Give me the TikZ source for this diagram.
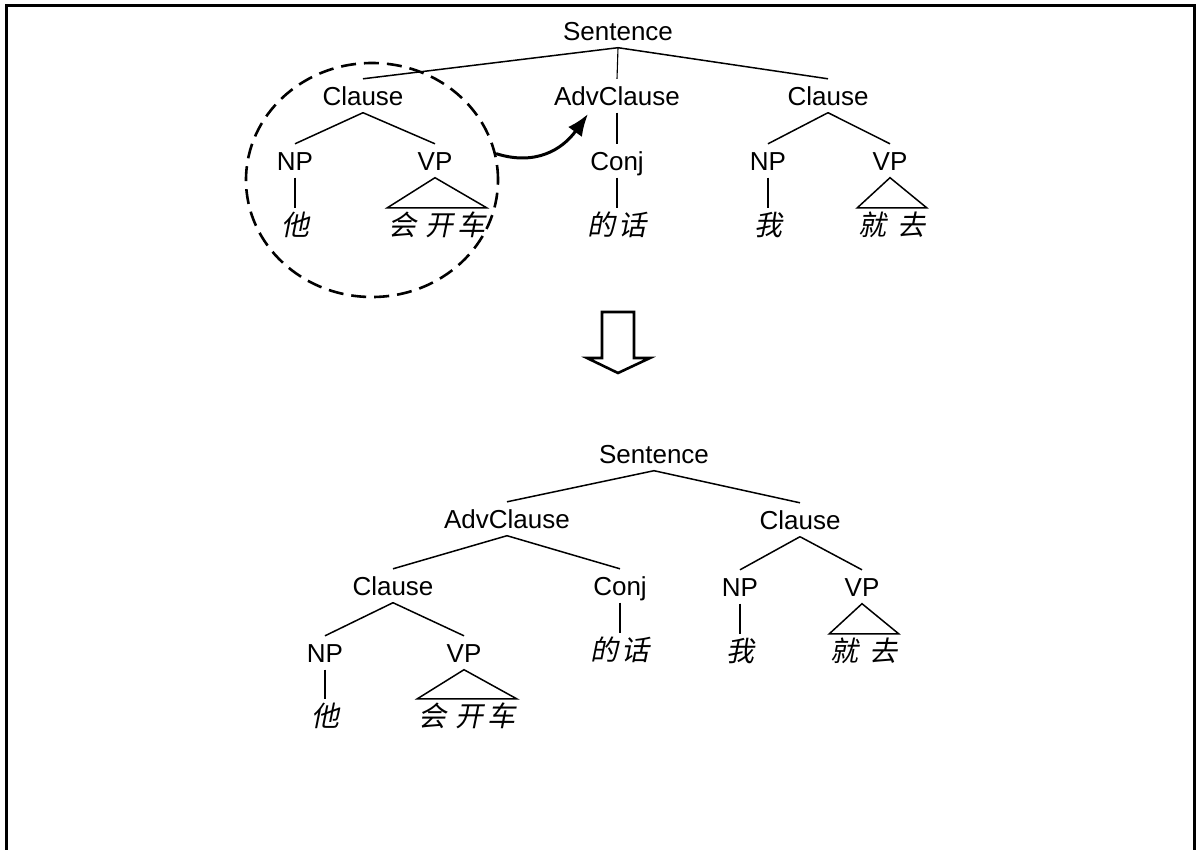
\documentclass[tikz,border=0pt]{standalone}
\usepackage{fontspec}
\setmainfont{Liberation Sans}
\newfontfamily\cjk[FakeSlant=0.2]{Noto Sans CJK SC}
\usetikzlibrary{shapes.geometric,arrows.meta,calc}
\begin{document}
\begin{tikzpicture}[x=1pt,y=-1pt,
  lab/.style={anchor=base, inner xsep=0pt, inner ysep=7.5pt, text height=18.5pt, text depth=0pt, font=\fontsize{26}{31}\selectfont},
  word/.style={anchor=base, inner xsep=1pt, inner ysep=5pt, text height=22pt, text depth=0pt, font=\fontsize{28}{33}\selectfont\cjk},
  edge/.style={line width=1.5pt},
  vedge/.style={line width=1.1pt},
  tri/.style={line width=1.5pt, line join=miter},
  frame/.style={line width=3pt},
  group/.style={ellipse, draw, line width=2.6pt, dash pattern=on 15pt off 8pt, minimum width=252pt, minimum height=234pt, inner sep=0pt},
  moveto/.style={line width=3pt, -{Latex[length=22pt,width=17pt]}},
  bigarrow/.style={line width=2.6pt, line join=miter}
]
\useasboundingbox (0,0) rectangle (1198,849);
\clip (0,0) rectangle (1198,849);
% frame
\draw[frame] (6,860) -- (6,5) -- (1194,5) -- (1194,860);

% ---------- top tree ----------
\node[lab] (S1) at (618,40) {Sentence};
\node[lab] (C1) at (363,105) {Clause};
\node[lab] (A1) at (617,105) {AdvClause};
\node[lab] (C2) at (828,105) {Clause};
\node[lab] (NP1) at (295,170) {NP};
\node[lab] (VP1) at (435,170) {VP};
\node[lab] (Cj1) at (617,170) {Conj};
\node[lab] (NP2) at (768,170) {NP};
\node[lab] (VP2) at (890,170) {VP};
\node[word] (W1) at (295,235) {他};
\node[word] (W2) at (437,235) {会\hspace{9pt}开\hspace{4pt}车};
\node[word] (W3) at (617,235) {的\hspace{4pt}话};
\node[word] (W4) at (768,235) {我};
\node[word] (W5) at (892,235) {就\hspace{11pt}去};

\draw[edge] (S1.south) -- (C1.north);
\draw[vedge] (S1.south) -- (A1.north);
\draw[edge] (S1.south) -- (C2.north);
\draw[edge] (C1.south) -- (NP1.north);
\draw[edge] (C1.south) -- (VP1.north);
\draw[vedge] (A1.south) -- (Cj1.north);
\draw[edge] (C2.south) -- (NP2.north);
\draw[edge] (C2.south) -- (VP2.north);
\draw[vedge] (NP1.south) -- (W1.north);
\draw[tri] (VP1.south) -- (W2.north west) -- (W2.north east) -- cycle;
\draw[vedge] (Cj1.south) -- (W3.north);
\draw[vedge] (NP2.south) -- (W4.north);
\draw[tri] (VP2.south) -- (W5.north west) -- (W5.north east) -- cycle;

% dashed group and movement arrow
\node[group] (grp) at (372,180) {};
\coordinate (tipA) at (588,114);
\draw[moveto] (grp.12) .. controls (535,166) and (562,150) .. (tipA);

% big down arrow
\draw[bigarrow] (602,312) -- (634,312) -- (634,358) -- (650,358) -- (618,373) -- (587,358) -- (602,358) -- cycle;

% ---------- bottom tree ----------
\node[lab] (S2) at (654,463) {Sentence};
\node[lab] (A2) at (507,528) {AdvClause};
\node[lab] (C3) at (800,529) {Clause};
\node[lab] (C4) at (393,595) {Clause};
\node[lab] (Cj2) at (620,595) {Conj};
\node[lab] (NP3) at (740,596) {NP};
\node[lab] (VP3) at (862,596) {VP};
\node[lab] (NP4) at (325,662) {NP};
\node[lab] (VP4) at (464,662) {VP};
\node[word] (V3) at (620,660) {的\hspace{4pt}话};
\node[word] (V4) at (740,661) {我};
\node[word] (V5) at (864,661) {就\hspace{11pt}去};
\node[word] (V1) at (325,726) {他};
\node[word] (V2) at (467,726) {会\hspace{9pt}开\hspace{4pt}车};

\draw[edge] (S2.south) -- (A2.north);
\draw[edge] (S2.south) -- (C3.north);
\draw[edge] (A2.south) -- (C4.north);
\draw[edge] (A2.south) -- (Cj2.north);
\draw[edge] (C3.south) -- (NP3.north);
\draw[edge] (C3.south) -- (VP3.north);
\draw[edge] (C4.south) -- (NP4.north);
\draw[edge] (C4.south) -- (VP4.north);
\draw[vedge] (Cj2.south) -- (V3.north);
\draw[vedge] (NP3.south) -- (V4.north);
\draw[tri] (VP3.south) -- (V5.north west) -- (V5.north east) -- cycle;
\draw[vedge] (NP4.south) -- (V1.north);
\draw[tri] (VP4.south) -- (V2.north west) -- (V2.north east) -- cycle;
\end{tikzpicture}
\end{document}
